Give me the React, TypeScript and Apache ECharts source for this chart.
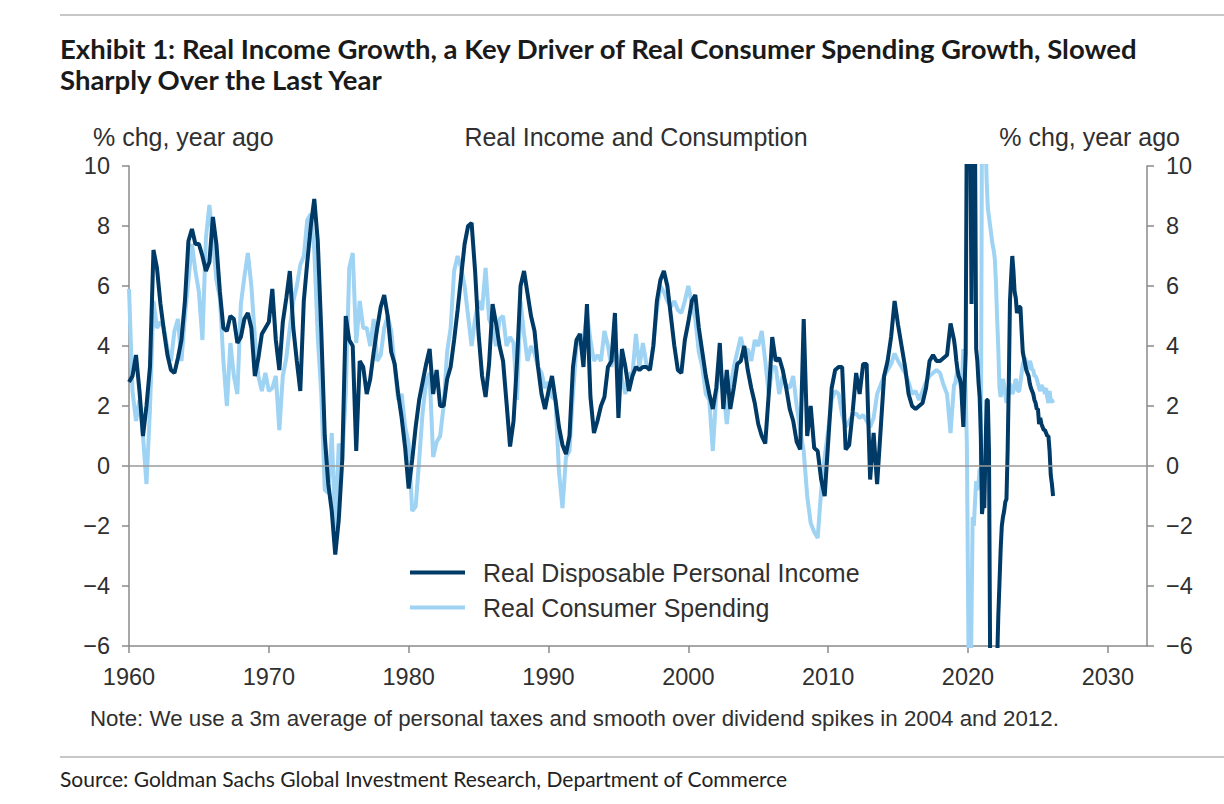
import React, { useEffect, useRef } from "react";
import * as echarts from "echarts";

// ---- Data ----
// Quarterly readings, 1960 Q1 .. 2018 Q4 (% chg, year ago)
const QUARTER_START = 1960;
const incomeQ = [
  2.8, 3.0, 3.7, 2.5, 1.0, 2.0, 3.3, 7.2, 6.6, 5.4, 4.5, 3.7, 3.2, 3.1, 3.6, 4.2,
  5.5, 7.5, 7.9, 7.4, 7.4, 7.0, 6.5, 6.8, 8.3, 7.4, 5.8, 4.6, 4.5, 5.0, 4.9, 4.1,
  4.3, 4.9, 5.1, 4.6, 3.0, 3.6, 4.4, 4.6, 4.8, 5.9, 4.2, 3.2, 4.8, 5.6, 6.5, 4.6,
  3.5, 2.5, 5.5, 6.8, 8.0, 8.9, 7.5, 4.5, 1.0, -0.6, -1.5, -2.95, -1.8, 0.2, 5.0, 4.2,
  4.0, 0.5, 3.5, 3.3, 2.4, 2.9, 3.8, 4.6, 5.3, 5.7, 5.0, 3.8, 3.4, 2.4, 1.6, 0.6,
  -0.75, 0.2, 1.3, 2.2, 2.8, 3.4, 3.9, 2.4, 3.2, 2.0, 2.0, 2.9, 3.3, 4.2, 5.2, 6.3,
  7.4, 8.0, 8.1, 6.5, 4.4, 3.0, 2.3, 3.4, 5.4, 4.75, 4.0, 3.5, 2.1, 0.65, 1.5, 3.5,
  6.0, 6.5, 5.75, 5.0, 4.5, 3.3, 2.4, 1.9, 2.5, 3.0, 2.2, 1.3, 0.7, 0.4, 1.0, 3.3,
  4.2, 4.4, 3.3, 5.4, 2.3, 1.1, 1.5, 2.0, 2.3, 3.3, 3.5, 5.1, 1.6, 3.9, 3.3, 2.5,
  3.0, 3.3, 3.2, 3.3, 3.3, 3.2, 4.0, 5.5, 6.2, 6.5, 6.0, 5.0, 4.0, 3.2, 3.1, 4.2,
  4.8, 5.5, 5.7, 4.6, 3.8, 3.0, 2.4, 1.9, 2.6, 4.1, 1.9, 3.2, 1.9, 2.6, 3.4, 3.5,
  4.0, 3.2, 2.6, 2.1, 1.4, 1.0, 0.75, 2.4, 4.3, 3.5, 3.6, 3.2, 2.6, 1.9, 1.5, 0.8,
  0.55, 4.9, 1.0, 2.0, 0.6, 0.5, -0.45, -1.0, 0.8, 2.6, 3.2, 3.3, 3.3, 0.55, 0.7, 1.8,
  3.1, 2.4, 3.4, 3.4, -0.45, 1.1, -0.6, 1.2, 3.0, 3.5, 4.3, 5.5, 4.7, 4.0, 3.3, 2.4,
  2.0, 1.9, 2.0, 2.1, 2.6, 3.5, 3.7, 3.5, 3.5, 3.6, 3.7, 4.75,
];
const spendingQ = [
  5.9, 2.5, 1.5, 2.2, 1.0, -0.6, 1.9, 5.5, 4.6, 4.8, 4.6, 3.9, 3.5, 4.5, 4.9, 3.5,
  5.0, 6.2, 7.4, 6.5, 5.8, 4.2, 7.6, 8.7, 7.5, 6.2, 5.6, 3.5, 2.0, 4.1, 3.0, 2.4,
  5.4, 6.3, 7.1, 6.0, 4.3, 3.0, 2.5, 3.1, 2.5, 2.6, 3.0, 1.2, 3.0, 3.6, 4.6, 5.5,
  6.0, 6.7, 7.0, 8.2, 8.4, 7.2, 4.3, 2.4, -0.8, -0.9, 1.1, -2.1, 0.75, 0.2, 2.4, 6.6,
  7.1, 4.1, 5.5, 4.6, 4.6, 4.0, 4.9, 3.5, 3.7, 4.6, 5.0, 4.5, 3.3, 2.2, 2.4, 1.3,
  0.75, -1.5, -1.35, 0.2, 1.8, 2.8, 3.1, 0.3, 0.8, 1.0, 2.0, 3.8, 4.6, 6.5, 7.0, 6.6,
  6.0, 5.0, 4.0, 4.9, 5.5, 5.2, 6.6, 4.9, 4.6, 4.0, 4.9, 5.0, 4.0, 4.3, 4.1, 2.2,
  5.5, 4.4, 3.5, 4.0, 3.75, 3.3, 3.1, 2.6, 2.8, 2.3, 2.2, -0.2, -1.4, 0.3, 0.5, 2.4,
  4.0, 4.4, 4.2, 5.1, 4.2, 3.5, 3.7, 3.5, 4.5, 4.0, 3.3, 4.0, 3.4, 2.9, 2.4, 3.1,
  3.0, 4.4, 3.3, 4.1, 3.4, 3.2, 4.1, 5.2, 6.0, 5.8, 5.5, 5.3, 5.5, 5.2, 5.1, 5.5,
  6.0, 5.4, 4.9, 3.8, 3.3, 2.4, 2.2, 0.5, 2.4, 3.3, 2.6, 1.4, 2.6, 3.3, 3.8, 4.3,
  3.8, 3.9, 3.5, 4.2, 4.0, 4.5, 3.5, 2.4, 3.3, 3.3, 2.4, 3.0, 2.7, 2.6, 3.0, 2.0,
  1.2, 0.5, -1.0, -1.9, -2.2, -2.4, -0.8, 0.3, 1.2, 2.2, 2.5, 2.4, 1.7, 1.3, 1.5, 1.7,
  1.75, 1.6, 1.7, 1.5, 1.3, 1.6, 2.4, 2.7, 3.0, 3.2, 3.4, 3.75, 3.5, 3.3, 3.1, 2.8,
  2.4, 2.5, 2.2, 2.5, 2.8, 3.0, 3.1, 3.2, 3.1, 2.7, 2.4, 1.1,
];

// Monthly readings, Jan 2019 .. early 2026
const MONTH_START = 2019;
const incomeM = [
  4.2, 3.9, 3.5, 3.2, 3.0, 2.9, 2.75, 2.0, 1.3, 2.6, 3.75, 12,
  13, 12, 11, 5.4, 12, 12, 11, 3.9, 3.5, 2.8, 2.3, 1.0,
  -1.6, -1.2, -1.4, 0.5, 2.2, 2.2, 0.5, -6.5, -7, -7, -7, -7,
  -7, -6.5, -5, -3.9, -2.8, -2.0, -1.7, -1.5, -1.2, -1.1, 0.5, 2.75,
  5.5, 6.3, 7.0, 6.5, 5.8, 5.6, 5.1, 5.2, 5.3, 5.3, 4.5, 3.8,
  3.6, 3.4, 3.2, 3.1, 3.0, 2.75, 2.6, 2.5, 2.4, 2.2, 2.1, 1.9,
  1.9, 1.4, 1.6, 1.4, 1.3, 1.2, 1.2, 1.1, 1.0, 1.0, 0.5, -0.3,
  -0.6, -1.0,
];
const spendingM = [
  2.7, 2.75, 3.0, 3.2, 2.9, 2.75, 2.6, 3.0, 3.9, 3.3, 2.5, 0.75,
  -4, -9, -9, -5, -1.7, -2.0, -1.2, -0.5, -0.8, -0.6, -0.1, -0.2,
  12, 12, 12, 11, 9.5, 8.6, 8.3, 8.0, 7.7, 7.4, 7.2, 6.9,
  6.1, 4.9, 3.9, 2.6, 2.3, 2.6, 2.9, 2.7, 2.4, 2.1, 2.4, 2.6,
  2.75, 2.6, 2.4, 2.5, 2.7, 2.9, 2.7, 2.5, 2.5, 2.8, 3.1, 3.4,
  3.5, 3.6, 3.4, 3.2, 3.3, 3.5, 3.4, 3.2, 3.2, 3.0, 3.0, 2.9,
  2.75, 2.6, 2.5, 2.7, 2.6, 2.6, 2.4, 2.6, 2.3, 2.1, 2.5, 2.2,
  2.2, 2.1,
];

const yearTicks = [1960, 1970, 1980, 1990, 2000, 2010, 2020, 2030];
const INCOME = "Real Disposable Personal Income";
const SPENDING = "Real Consumer Spending";

const DARK = "#003a66";
const LIGHT = "#9fd3f3";
const AXIS = "#8a8a8a";
const TXT = "#303030";
const SANS = "'Liberation Sans', Arial, Helvetica, sans-serif";
const TITLE_FONT = "bold 27.5px Lato, 'Open Sans', sans-serif";

function toPairs(start: number, step: number, vals: number[]) {
  return vals.map((v, i) => [start + i * step, v]);
}

const fmtY = (v: number) => (v < 0 ? "\u2212" + Math.abs(v) : String(v));

function txt(x: number, y: number, text: string, font: string, fill: string, align: string) {
  return {
    type: "text",
    x,
    y,
    style: {
      text,
      font,
      fill,
      align,
      verticalAlign: "middle",
      textAlign: align,
      textVerticalAlign: "middle",
    },
  };
}

export default function App() {
  const ref = useRef<HTMLDivElement>(null);
  useEffect(() => {
    if (!ref.current) return;
    const chart = echarts.init(ref.current, null, { renderer: "svg" });
    const incomeData = [
      ...toPairs(QUARTER_START, 0.25, incomeQ),
      ...toPairs(MONTH_START, 1 / 12, incomeM),
    ];
    const spendingData = [
      ...toPairs(QUARTER_START, 0.25, spendingQ),
      ...toPairs(MONTH_START, 1 / 12, spendingM),
    ];
    const yAxisCommon = {
      type: "value",
      min: -6,
      max: 10,
      interval: 2,
      splitLine: { show: false },
      axisLine: { show: true, lineStyle: { color: AXIS, width: 1.5 } },
      axisTick: { show: true, length: 7, lineStyle: { color: AXIS, width: 1.5 } },
      axisLabel: {
        fontSize: 23.5,
        color: TXT,
        fontFamily: SANS,
        margin: 19,
        formatter: fmtY,
      },
    };
    chart.setOption({
      animation: false,
      backgroundColor: "#ffffff",
      textStyle: { fontFamily: SANS },
      grid: { left: 129, top: 166, width: 1018, height: 480, containLabel: false },
      xAxis: {
        type: "value",
        min: 1960,
        max: 2032.8,
        splitLine: { show: false },
        axisLine: { show: true, onZero: false, lineStyle: { color: AXIS, width: 1.5 } },
        axisTick: {
          show: true,
          length: 7,
          customValues: yearTicks,
          lineStyle: { color: AXIS, width: 1.5 },
        },
        axisLabel: {
          customValues: yearTicks,
          fontSize: 23.5,
          color: TXT,
          fontFamily: SANS,
          margin: 19,
          formatter: (v: number) => String(v),
        },
      },
      yAxis: [
        { ...yAxisCommon, position: "left" },
        { ...yAxisCommon, position: "right" },
      ],
      legend: {
        data: [INCOME, SPENDING],
        orient: "vertical",
        left: 405,
        top: 555,
        padding: 5,
        icon: "rect",
        itemWidth: 55,
        itemHeight: 4,
        itemGap: 10,
        textStyle: {
          fontSize: 25,
          color: TXT,
          fontFamily: SANS,
          padding: [0, 0, 0, 13],
        },
      },
      graphic: [
        {
          type: "line",
          shape: { x1: 60, y1: 15, x2: 1224, y2: 15 },
          style: { stroke: "#b5b5b5", lineWidth: 1.5 },
        },
        {
          type: "line",
          shape: { x1: 60, y1: 757, x2: 1224, y2: 757 },
          style: { stroke: "#b5b5b5", lineWidth: 1.5 },
        },
        txt(60, 48, "Exhibit 1: Real Income Growth, a Key Driver of Real Consumer Spending Growth, Slowed", TITLE_FONT, "#1a1a1a", "left"),
        txt(60, 79, "Sharply Over the Last Year", TITLE_FONT, "#1a1a1a", "left"),
        txt(93, 137, "% chg, year ago", "25px " + SANS, TXT, "left"),
        txt(636, 137, "Real Income and Consumption", "25px " + SANS, TXT, "center"),
        txt(1180, 137, "% chg, year ago", "25px " + SANS, TXT, "right"),
        txt(90, 718, "Note: We use a 3m average of personal taxes and smooth over dividend spikes in 2004 and 2012.", "22.3px " + SANS, TXT, "left"),
        txt(60, 778, "Source: Goldman Sachs Global Investment Research, Department of Commerce", "21px Lato, 'Open Sans', sans-serif", "#222222", "left"),
      ],
      series: [
        {
          name: SPENDING,
          type: "line",
          data: spendingData,
          yAxisIndex: 0,
          showSymbol: false,
          symbol: "none",
          clip: true,
          lineStyle: { color: LIGHT, width: 4 },
          itemStyle: { color: LIGHT },
          z: 2,
        },
        {
          name: INCOME,
          type: "line",
          data: incomeData,
          yAxisIndex: 0,
          showSymbol: false,
          symbol: "none",
          clip: true,
          lineStyle: { color: DARK, width: 4 },
          itemStyle: { color: DARK },
          z: 3,
          markLine: {
            silent: true,
            symbol: ["none", "none"],
            label: { show: false },
            lineStyle: { color: "#9a9a9a", width: 1.5, type: "solid" },
            data: [{ yAxis: 0 }],
          },
        },
      ],
    });
    return () => chart.dispose();
  }, []);
  return (
    <div
      ref={ref}
      style={{
        position: "fixed",
        left: 0,
        top: 0,
        width: 1224,
        height: 804,
        background: "#ffffff",
      }}
    />
  );
}
